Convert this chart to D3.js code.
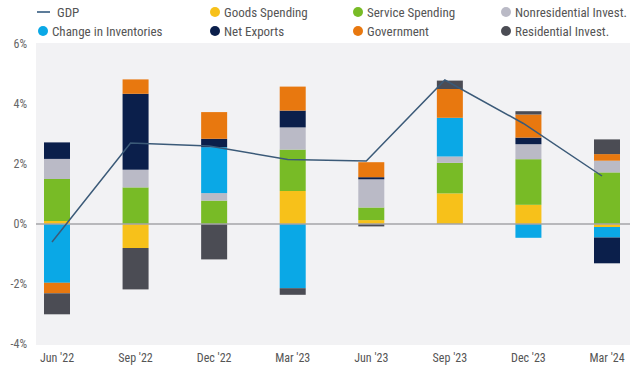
<!DOCTYPE html>
<html>
<head>
<meta charset="utf-8">
<script src="https://cdn.jsdelivr.net/npm/d3@7"></script>
<style>
  body { margin: 0; background: #fff; }
  text { font-family: "Liberation Sans Narrow", "Roboto Condensed", "DejaVu Sans Condensed", Roboto, sans-serif; }
</style>
</head>
<body>
<div class="container"></div>
<script>
var quarters = ["Jun '22", "Sep '22", "Dec '22", "Mar '23", "Jun '23", "Sep '23", "Dec '23", "Mar '24"];
var gdp = [-0.6, 2.7, 2.6, 2.15, 2.1, 4.8, 3.35, 1.6];
var goods = [0.1, -0.8, 0, 1.1, 0.13, 1.02, 0.64, -0.1];
var services = [1.4, 1.22, 0.78, 1.38, 0.42, 1.02, 1.52, 1.72];
var nonres = [0.67, 0.59, 0.25, 0.74, 0.94, 0.21, 0.5, 0.39];
var inventories = [-1.96, 0, 1.53, -2.14, 0, 1.29, -0.46, -0.35];
var netExports = [0.55, 2.53, 0.28, 0.56, 0.07, 0, 0.22, -0.86];
var government = [-0.35, 0.48, 0.89, 0.8, 0.5, 0.96, 0.77, 0.22];
var residential = [-0.7, -1.38, -1.18, -0.22, -0.08, 0.28, 0.11, 0.49];
var yTicks = [-4, -2, 0, 2, 4, 6];

var seriesKeys = ['goods', 'services', 'nonres', 'inventories', 'netExports', 'government', 'residential'];
var seriesValues = [goods, services, nonres, inventories, netExports, government, residential];
var COLORS = {
    goods: '#f7c11a', services: '#78bb26', nonres: '#babac6', inventories: '#0aa8e6',
    netExports: '#0b1f4b', government: '#e8780f', residential: '#4b4c54'
};

var legendItems = [
    {name: 'GDP', key: 'gdp', col: 0, row: 0},
    {name: 'Goods Spending', key: 'goods', col: 1, row: 0},
    {name: 'Service Spending', key: 'services', col: 2, row: 0},
    {name: 'Nonresidential Invest.', key: 'nonres', col: 3, row: 0},
    {name: 'Change in Inventories', key: 'inventories', col: 0, row: 1},
    {name: 'Net Exports', key: 'netExports', col: 1, row: 1},
    {name: 'Government', key: 'government', col: 2, row: 1},
    {name: 'Residential Invest.', key: 'residential', col: 3, row: 1}
];

const WIDTH = 642, HEIGHT = 371;
const LEFT = 36, RIGHT = 630;
const BAR_W = 26;

var visualize = function () {
    var svg = d3.select('.container').append('svg')
        .attr('width', WIDTH).attr('height', HEIGHT);

    var x = d3.scalePoint().domain(quarters).range([57, 607]);
    var xLine = d3.scalePoint().domain(quarters).range([52, 602]);
    var y = d3.scaleLinear().domain([-4, 6]).range([344, 44]);

    svg.append('rect')
        .attr('x', LEFT).attr('y', y(6) - 1)
        .attr('width', RIGHT - LEFT).attr('height', y(-4) - y(6) + 2)
        .style('fill', '#f2f2f4');

    // y labels
    svg.append('g').selectAll('text')
        .data(yTicks).enter().append('text')
        .attr('x', 27).attr('y', function (d) { return y(d); })
        .attr('dy', '0.35em')
        .attr('text-anchor', 'end')
        .style('font-size', '12px').style('fill', '#666')
        .text(function (d) { return d + '%'; });

    // x labels
    svg.append('g').selectAll('text')
        .data(quarters).enter().append('text')
        .attr('x', function (d) { return x(d); }).attr('y', 358)
        .attr('dy', '0.35em')
        .attr('text-anchor', 'middle')
        .style('font-size', '12px').style('fill', '#555')
        .text(function (d) { return d; });

    var table = quarters.map(function (q, i) {
        var row = {quarter: q};
        seriesKeys.forEach(function (k, j) { row[k] = seriesValues[j][i]; });
        return row;
    });
    var stacked = d3.stack().keys(seriesKeys).offset(d3.stackOffsetDiverging)(table);

    svg.append('g').selectAll('g')
        .data(stacked).enter().append('g')
        .style('fill', function (s) { return COLORS[s.key]; })
        .selectAll('rect')
        .data(function (s) { return s; }).enter().append('rect')
        .attr('x', function (d) { return x(d.data.quarter) - BAR_W / 2; })
        .attr('width', BAR_W)
        .attr('y', function (d) { return y(d[1]); })
        .attr('height', function (d) { return y(d[0]) - y(d[1]); });

    svg.append('line')
        .attr('x1', LEFT).attr('x2', RIGHT)
        .attr('y1', y(0)).attr('y2', y(0))
        .style('stroke', '#a5a5a8').style('stroke-width', 1.5);

    var line = d3.line()
        .x(function (d, i) { return xLine(quarters[i]); })
        .y(function (d) { return y(d); });
    svg.append('path')
        .datum(gdp)
        .attr('d', line)
        .style('fill', 'none').style('stroke', '#3b5a78').style('stroke-width', 1.5);

    // legend
    var colX = [37, 209, 352, 500];
    var rowY = [12, 31];
    var legend = svg.append('g').selectAll('g')
        .data(legendItems).enter().append('g')
        .attr('transform', function (d) { return 'translate(' + colX[d.col] + ',' + rowY[d.row] + ')'; });
    legend.each(function (d) {
        var g = d3.select(this);
        if (d.key == 'gdp') {
            g.append('line').attr('x1', 0).attr('x2', 13).attr('y1', 0).attr('y2', 0)
                .style('stroke', '#5d7c99').style('stroke-width', 2);
            g.append('text').attr('x', 20).attr('dy', '0.35em')
                .style('font-size', '13px').style('fill', '#555').text(d.name);
        } else {
            g.append('circle').attr('cx', 6).attr('r', 5).style('fill', COLORS[d.key]);
            g.append('text').attr('x', 15).attr('dy', '0.35em')
                .style('font-size', '13px').style('fill', '#555').text(d.name);
        }
    });
};

window.onload = visualize;
</script>
</body>
</html>
